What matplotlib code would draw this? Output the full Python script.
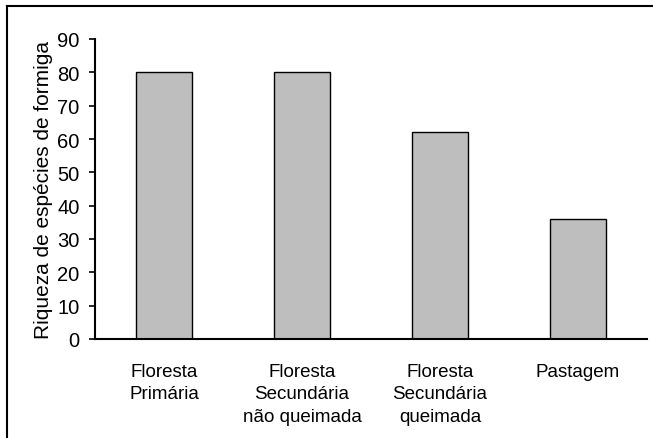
import matplotlib
matplotlib.use("Agg")
import matplotlib.pyplot as plt
from matplotlib.lines import Line2D

categories = ["Floresta\nPrimária", "Floresta\nSecundária\nnão queimada",
              "Floresta\nSecundária\nqueimada", "Pastagem"]
values = [80, 80, 62, 36]
yticks = [0, 10, 20, 30, 40, 50, 60, 70, 80, 90]

plt.rcParams['font.family'] = ['Liberation Sans', 'DejaVu Sans']
fig = plt.figure(figsize=(6.53, 4.39), dpi=100)
ax = fig.add_axes([95/653, 1-340/439, (647-95)/653, 300/439])

x = list(range(len(categories)))
ax.bar(x, values, width=0.4, color="#bebebe", edgecolor="black", linewidth=1.0, zorder=2)
ax.set_xlim(-0.5, 3.5)
ax.set_ylim(0, 90)
ax.set_yticks(yticks)
ax.set_xticks(x)
ax.set_xticklabels(categories, fontsize=13.5, linespacing=1.45)
ax.tick_params(axis='x', length=0, pad=17)
ax.tick_params(axis='y', length=4, width=1.2, labelsize=14.5, pad=7)
for s in ["top", "right"]:
    ax.spines[s].set_visible(False)
ax.spines["left"].set_linewidth(1.5)
ax.spines["bottom"].set_linewidth(1.5)
ax.set_ylabel("Riqueza de espécies de formiga", fontsize=15, labelpad=3)

# figure frame (top and left visible)
fig.add_artist(Line2D([7/653, 1], [1-7/439, 1-7/439], color="black", lw=1.5, transform=fig.transFigure))
fig.add_artist(Line2D([7/653, 7/653], [0, 1-7/439], color="black", lw=1.5, transform=fig.transFigure))

fig.savefig("out.png", dpi=100)
